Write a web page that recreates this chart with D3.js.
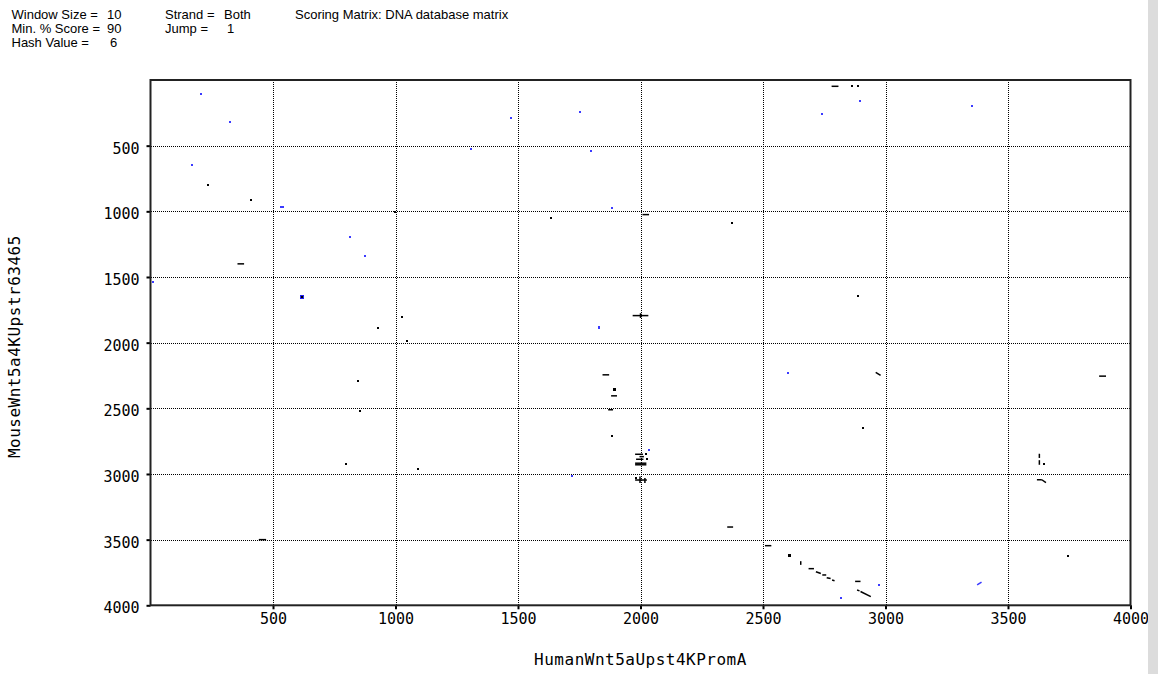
<!DOCTYPE html>
<html>
<head>
<meta charset="utf-8">
<script src="https://cdn.jsdelivr.net/npm/d3@7"></script>
<style>
  body { margin: 0; background: #fff; }
  .hdr { font-family: "Liberation Sans", Arial, sans-serif; font-size: 13px; fill: #000; }
  .tick text { font-family: "DejaVu Sans Mono", monospace; font-size: 15px; fill: #000; }
  .title { font-family: "DejaVu Sans Mono", monospace; font-size: 16px; letter-spacing: 0.5px; fill: #000; }
</style>
</head>
<body>
<div id="dotplot"></div>
<script>

// Dot plot of HumanWnt5aUpst4KPromA vs MouseWnt5a4KUpstr63465

const width = 1158, height = 674;
const margin = {top: 80, right: 27.5, bottom: 68.7, left: 150.5};

const xTicks = [500, 1000, 1500, 2000, 2500, 3000, 3500, 4000];
const yTicks = [500, 1000, 1500, 2000, 2500, 3000, 3500, 4000];

// single hits, black = same strand
const blackHits = [
  [235, 799], [410, 913], [998, 1002], [927, 1890], [1633, 1048], [2372, 1086],
  [1025, 1806], [1046, 1991], [2862, 48], [2889, 48], [2889, 1646], [848, 2291],
  [855, 2524], [797, 2927], [1882, 2709], [1091, 2963], [3746, 3622], [2910, 2651],
  [3648, 2925], [2022, 2850], [2026, 2888], [1981, 3030]
];
// bigger black blobs
const blackBlobs = [[1892, 2359], [2607, 3620]];

// short diagonal runs, black  [x1, y1, x2, y2]
const blackRuns = [
  [355, 1400, 382, 1400], [2008, 1025, 2035, 1025],
  [1968, 1794, 2032, 1794], [2000, 1776, 2000, 1812],
  [1845, 2245, 1872, 2245], [2960, 2226, 2980, 2250], [3872, 2255, 3900, 2255],
  [2780, 48, 2808, 48], [442, 3500, 472, 3500],
  [1880, 2405, 1904, 2405], [1868, 2511, 1888, 2511],
  [3628, 2846, 3628, 2878], [3628, 2895, 3628, 2930],
  [3618, 3044, 3638, 3044], [3638, 3044, 3655, 3066],
  [2354, 3404, 2378, 3404], [2508, 3546, 2534, 3546],
  [2654, 3664, 2654, 3692], [2686, 3721, 2708, 3721],
  [2716, 3744, 2736, 3758], [2742, 3769, 2758, 3769],
  [2760, 3790, 2776, 3796], [2782, 3808, 2792, 3813],
  [2876, 3818, 2898, 3818], [2884, 3884, 2894, 3890], [2898, 3895, 2940, 3934],
  // cluster around 2000 / 2900
  [1978, 2850, 2010, 2850], [1996, 2868, 2014, 2868], [1982, 2888, 2012, 2888],
  [1978, 2918, 2024, 2918], [1978, 2930, 2024, 2930],
  // cluster around 2000 / 3040
  [1978, 3046, 2026, 3046], [1998, 3020, 1998, 3068], [2018, 3030, 2018, 3068]
];

// reverse strand hits, blue
const blueHits = [
  [207, 109], [324, 317], [169, 647], [533, 964], [540, 964], [816, 1195], [875, 1342],
  [12, 1537], [1472, 292], [1752, 244], [1307, 525], [1797, 538], [1882, 974],
  [1831, 1878], [1831, 1892], [2601, 2232], [2896, 160], [2740, 256], [3354, 195],
  [2033, 2818], [1719, 3014], [2975, 3843], [2818, 3942]
];
const blueBlobs = [[619, 1654]];
const blueRuns = [[3374, 3845, 3392, 3823]];

const svg = d3.select("#dotplot")
  .append("svg")
  .attr("width", width)
  .attr("height", height);

// header with the run settings
const hdr = svg.append("g").attr("class", "hdr");
hdr.append("text").attr("x", 11.5).attr("y", 19).text("Window Size =");
hdr.append("text").attr("x", 107).attr("y", 19).text("10");
hdr.append("text").attr("x", 11.5).attr("y", 33).text("Min. % Score =");
hdr.append("text").attr("x", 107).attr("y", 33).text("90");
hdr.append("text").attr("x", 11.5).attr("y", 47).text("Hash Value =");
hdr.append("text").attr("x", 110).attr("y", 47).text("6");
hdr.append("text").attr("x", 165).attr("y", 19).text("Strand =");
hdr.append("text").attr("x", 224).attr("y", 19).text("Both");
hdr.append("text").attr("x", 165).attr("y", 33).text("Jump =");
hdr.append("text").attr("x", 227).attr("y", 33).text("1");
hdr.append("text").attr("x", 295).attr("y", 19).text("Scoring Matrix: DNA database matrix");

// scales
const xScale = d3.scaleLinear()
  .domain([0, 4000])
  .range([margin.left, width - margin.right]);
const yScale = d3.scaleLinear()
  .domain([0, 4000])
  .range([margin.top, height - margin.bottom]);

// dotted grid
svg.append("g")
  .selectAll("line")
  .data(xTicks.slice(0, -1))
  .enter().append("line")
    .attr("x1", d => Math.round(xScale(d)) + 0.5)
    .attr("x2", d => Math.round(xScale(d)) + 0.5)
    .attr("y1", yScale(0))
    .attr("y2", yScale(4000))
    .attr("stroke", "#000")
    .attr("stroke-dasharray", "1,1")
    .attr("shape-rendering", "crispEdges");
svg.append("g")
  .selectAll("line")
  .data(yTicks.slice(0, -1))
  .enter().append("line")
    .attr("y1", d => Math.round(yScale(d)) + 0.5)
    .attr("y2", d => Math.round(yScale(d)) + 0.5)
    .attr("x1", xScale(0))
    .attr("x2", xScale(4000))
    .attr("stroke", "#000")
    .attr("stroke-dasharray", "1,1")
    .attr("shape-rendering", "crispEdges");

// x axis
svg.append("g")
  .attr("transform", `translate(0,${yScale(4000)})`)
  .call(d3.axisBottom(xScale).tickValues(xTicks).tickSize(4).tickPadding(4).tickFormat(d3.format("d")))
  .call(g => g.select(".domain").remove())
  .call(g => g.selectAll(".tick line").attr("stroke-width", 2));

// y axis
svg.append("g")
  .attr("transform", `translate(${xScale(0)},0)`)
  .call(d3.axisLeft(yScale).tickValues(yTicks).tickSize(4).tickPadding(7).tickFormat(d3.format("d")))
  .call(g => g.select(".domain").remove())
  .call(g => g.selectAll(".tick line").attr("stroke-width", 2))
  .call(g => g.selectAll(".tick text").attr("dy", "0.5em"));

// plot frame
svg.append("rect")
  .attr("x", xScale(0))
  .attr("y", yScale(0))
  .attr("width", xScale(4000) - xScale(0))
  .attr("height", yScale(4000) - yScale(0))
  .attr("fill", "none")
  .attr("stroke", "#222")
  .attr("stroke-width", 2);

// hits
const drawHits = (data, color, size) => {
  svg.append("g")
    .selectAll("rect")
    .data(data)
    .enter().append("rect")
      .attr("x", d => xScale(d[0]) - size / 2)
      .attr("y", d => yScale(d[1]) - size / 2)
      .attr("width", size)
      .attr("height", size)
      .attr("fill", color)
      .attr("shape-rendering", "crispEdges");
};
const drawRuns = (data, color) => {
  svg.append("g")
    .selectAll("line")
    .data(data)
    .enter().append("line")
      .attr("x1", d => xScale(d[0]))
      .attr("y1", d => yScale(d[1]))
      .attr("x2", d => xScale(d[2]))
      .attr("y2", d => yScale(d[3]))
      .attr("stroke", color)
      .attr("stroke-width", 1.5);
};

drawHits(blueHits, "#3a3aff", 2);
drawHits(blueBlobs, "#2020ee", 4);
drawHits([blueBlobs[0]], "#000", 2);
drawRuns(blueRuns, "#3a3aff");
drawHits(blackHits, "#000", 2);
drawHits(blackBlobs, "#000", 3);
drawRuns(blackRuns, "#000");

// axis titles
svg.append("text")
  .attr("class", "title")
  .attr("x", (xScale(0) + xScale(4000)) / 2)
  .attr("y", 665)
  .attr("text-anchor", "middle")
  .text("HumanWnt5aUpst4KPromA");

svg.append("text")
  .attr("class", "title")
  .attr("transform", `translate(20,${(yScale(0) + yScale(4000)) / 2 + 4}) rotate(-90)`)
  .attr("text-anchor", "middle")
  .text("MouseWnt5a4KUpstr63465");

// window edge strip on the right
svg.append("rect")
  .attr("x", 1148)
  .attr("y", 0)
  .attr("width", 10)
  .attr("height", height)
  .attr("fill", "#dcdcdc");

</script>
</body>
</html>
